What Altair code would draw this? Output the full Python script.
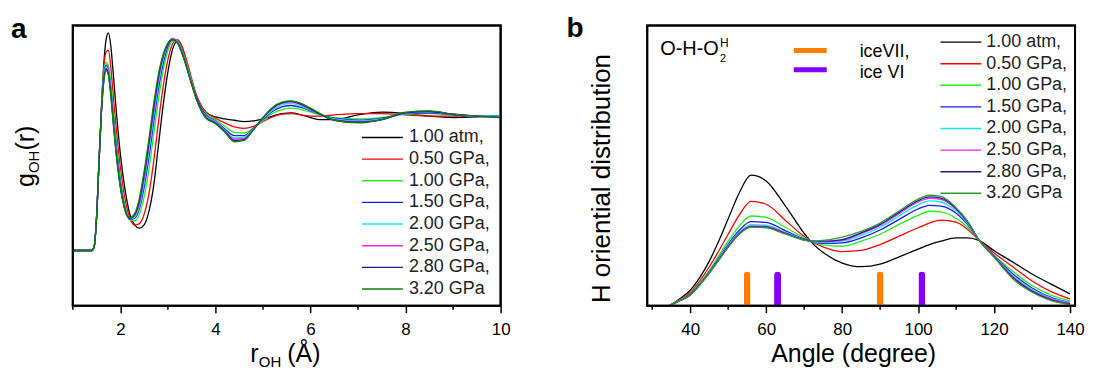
import altair as alt
import pandas as pd

FONT = "Liberation Sans"

# ---------------- data: panel a (g_OH(r)) ----------------
R_A = [1.0, 1.4, 1.45, 1.5, 1.55, 1.6, 1.65, 1.7, 1.75, 1.8, 1.85, 1.9, 2.0, 2.1, 2.2, 2.3, 2.4, 2.5,
       2.6, 2.7, 2.8, 2.9, 3.0, 3.1, 3.2, 3.3, 3.4, 3.5, 3.6, 3.8, 4.0, 4.2, 4.4, 4.6, 4.8, 5.0, 5.2,
       5.4, 5.6, 5.8, 6.0, 6.2, 6.5, 7.0, 7.5, 8.0, 8.5, 9.0, 9.5, 10.0]
G_ATM = [0, 0, 0.03, 0.25, 0.65, 1.05, 1.38, 1.57, 1.62, 1.52, 1.32, 1.10, 0.72, 0.45, 0.27, 0.19, 0.166,
         0.19, 0.29, 0.48, 0.78, 1.08, 1.33, 1.50, 1.56, 1.50, 1.38, 1.25, 1.14, 1.03, 0.995, 0.98, 0.97,
         0.96, 0.965, 0.98, 1.0, 1.02, 1.025, 1.01, 0.99, 0.975, 0.975, 1.01, 1.03, 1.02, 1.0, 0.99, 0.995, 1.0]
G_050 = [0, 0, 0.03, 0.25, 0.65, 1.04, 1.36, 1.48, 1.49, 1.36, 1.16, 0.96, 0.62, 0.38, 0.24, 0.19, 0.20,
         0.27, 0.42, 0.66, 0.95, 1.22, 1.42, 1.54, 1.57, 1.52, 1.41, 1.28, 1.16, 1.03, 0.985, 0.95, 0.92,
         0.91, 0.925, 0.96, 0.995, 1.015, 1.02, 1.01, 1.0, 1.0, 1.01, 1.02, 1.02, 1.01, 1.0, 1.0, 1.0, 1.0]
G_100 = [0, 0, 0.03, 0.25, 0.65, 1.03, 1.33, 1.40, 1.37, 1.24, 1.05, 0.86, 0.54, 0.33, 0.23, 0.22, 0.27,
         0.40, 0.60, 0.86, 1.12, 1.34, 1.49, 1.56, 1.56, 1.49, 1.38, 1.26, 1.14, 1.02, 0.975, 0.925, 0.88,
         0.875, 0.91, 0.965, 1.02, 1.05, 1.06, 1.05, 1.03, 1.01, 0.99, 0.98, 0.99, 1.015, 1.02, 1.01, 1.0, 1.0]
G_150 = [0, 0, 0.03, 0.25, 0.65, 1.03, 1.30, 1.38, 1.34, 1.20, 1.01, 0.82, 0.51, 0.31, 0.23, 0.24, 0.31,
         0.47, 0.69, 0.95, 1.20, 1.39, 1.52, 1.57, 1.56, 1.48, 1.37, 1.25, 1.14, 1.01, 0.965, 0.905, 0.855,
         0.855, 0.91, 0.975, 1.035, 1.07, 1.08, 1.065, 1.04, 1.015, 0.985, 0.97, 0.985, 1.02, 1.025, 1.01, 1.0, 1.0]
G_200 = [0, 0, 0.03, 0.25, 0.65, 1.02, 1.28, 1.37, 1.33, 1.18, 0.99, 0.80, 0.49, 0.30, 0.235, 0.25, 0.33,
         0.51, 0.74, 1.00, 1.24, 1.42, 1.54, 1.58, 1.56, 1.48, 1.37, 1.25, 1.13, 1.00, 0.96, 0.895, 0.84,
         0.845, 0.905, 0.98, 1.045, 1.085, 1.095, 1.075, 1.045, 1.015, 0.98, 0.965, 0.98, 1.02, 1.03, 1.015, 1.0, 1.0]
G_250 = [0, 0, 0.03, 0.25, 0.65, 1.02, 1.27, 1.36, 1.32, 1.17, 0.97, 0.78, 0.48, 0.30, 0.24, 0.26, 0.35,
         0.54, 0.78, 1.03, 1.27, 1.44, 1.54, 1.58, 1.55, 1.47, 1.36, 1.24, 1.13, 0.995, 0.955, 0.89, 0.83,
         0.835, 0.90, 0.985, 1.055, 1.095, 1.105, 1.085, 1.05, 1.015, 0.975, 0.96, 0.975, 1.025, 1.035, 1.015, 1.0, 0.995]
G_280 = [0, 0, 0.03, 0.25, 0.65, 1.02, 1.26, 1.35, 1.31, 1.16, 0.96, 0.77, 0.475, 0.30, 0.24, 0.265, 0.37,
         0.56, 0.80, 1.06, 1.29, 1.45, 1.54, 1.57, 1.55, 1.47, 1.36, 1.24, 1.13, 0.99, 0.95, 0.885, 0.82,
         0.825, 0.90, 0.99, 1.06, 1.10, 1.11, 1.09, 1.055, 1.015, 0.97, 0.955, 0.975, 1.025, 1.035, 1.015, 1.0, 0.99]
G_320 = [0, 0, 0.03, 0.25, 0.65, 1.02, 1.25, 1.34, 1.30, 1.15, 0.95, 0.76, 0.47, 0.30, 0.245, 0.275, 0.39,
         0.59, 0.83, 1.09, 1.31, 1.46, 1.545, 1.57, 1.545, 1.465, 1.355, 1.235, 1.125, 0.985, 0.945, 0.88, 0.81,
         0.82, 0.90, 0.99, 1.065, 1.105, 1.115, 1.095, 1.06, 1.02, 0.97, 0.95, 0.975, 1.03, 1.04, 1.015, 1.0, 0.99]

# ---------------- data: panel b (H orientational distribution) ----------------
A_B = [34.5, 37, 40, 42.5, 45, 47.5, 50, 53, 56, 60, 65, 70, 72, 75, 80, 85, 90, 95, 100, 103, 106, 110,
       113, 116, 120, 125, 130, 135, 140]
P_ATM = [0, 0.22, 0.55, 1.0, 1.58, 2.3, 3.1, 4.05, 4.66, 4.45, 3.57, 2.58, 2.25, 1.9, 1.52, 1.39, 1.48,
         1.74, 2.02, 2.18, 2.3, 2.42, 2.42, 2.33, 1.96, 1.55, 1.13, 0.77, 0.42]
P_050 = [0, 0.2, 0.47, 0.88, 1.38, 1.95, 2.55, 3.25, 3.72, 3.62, 3.05, 2.47, 2.28, 2.1, 1.93, 1.97, 2.18,
         2.48, 2.78, 2.95, 3.05, 2.98, 2.72, 2.35, 1.88, 1.38, 0.88, 0.5, 0.24]
P_100 = [0, 0.18, 0.42, 0.8, 1.25, 1.78, 2.3, 2.85, 3.2, 3.15, 2.8, 2.42, 2.29, 2.17, 2.12, 2.3, 2.55,
         2.9, 3.22, 3.37, 3.35, 3.12, 2.8, 2.35, 1.8, 1.22, 0.72, 0.38, 0.18]
P_150 = [0, 0.17, 0.4, 0.77, 1.2, 1.7, 2.2, 2.7, 3.0, 2.97, 2.68, 2.38, 2.29, 2.22, 2.24, 2.42, 2.7,
         3.08, 3.45, 3.58, 3.55, 3.3, 2.9, 2.35, 1.78, 1.13, 0.63, 0.3, 0.12]
P_200 = [0, 0.17, 0.39, 0.76, 1.18, 1.67, 2.15, 2.63, 2.89, 2.87, 2.62, 2.36, 2.29, 2.25, 2.3, 2.5, 2.8,
         3.2, 3.6, 3.74, 3.7, 3.38, 2.95, 2.35, 1.76, 1.07, 0.58, 0.27, 0.1]
P_250 = [0, 0.16, 0.38, 0.75, 1.17, 1.65, 2.12, 2.6, 2.85, 2.83, 2.6, 2.35, 2.3, 2.28, 2.33, 2.57, 2.86,
         3.28, 3.7, 3.83, 3.79, 3.44, 2.98, 2.35, 1.75, 1.03, 0.54, 0.24, 0.08]
P_280 = [0, 0.16, 0.38, 0.74, 1.16, 1.63, 2.1, 2.58, 2.82, 2.8, 2.58, 2.35, 2.3, 2.3, 2.36, 2.6, 2.9,
         3.33, 3.75, 3.88, 3.84, 3.47, 3.0, 2.35, 1.74, 1.0, 0.51, 0.21, 0.06]
P_320 = [0, 0.16, 0.37, 0.73, 1.15, 1.62, 2.08, 2.56, 2.8, 2.78, 2.56, 2.34, 2.3, 2.33, 2.45, 2.65, 2.95,
         3.38, 3.8, 3.94, 3.9, 3.5, 3.02, 2.35, 1.73, 0.95, 0.48, 0.18, 0.04]

ICE_VII = [55, 90]
ICE_VI = [63, 101]
ICE_H = 1.22

SERIES = ["1.00 atm,", "0.50 GPa,", "1.00 GPa,", "1.50 GPa,", "2.00 GPa,", "2.50 GPa,", "2.80 GPa,", "3.20 GPa"]
COLORS_A = ["#000000", "#ff0000", "#22ee22", "#1a1aff", "#00f0f0", "#ff22ff", "#1c1c8c", "#0a800a"]
COLORS_B = ["#000000", "#ff0000", "#22ee22", "#1a1aff", "#00f0f0", "#ff22ff", "#1c1c8c", "#339933"]

MAJOR_A = [2, 4, 6, 8, 10]
MINOR_A = [1, 3, 5, 7, 9]
MAJOR_B = [40, 60, 80, 100, 120, 140]
MINOR_B = [30, 50, 70, 90, 110, 130]

DOMAIN_XA, DOMAIN_YA = [1, 10], [-0.411, 1.676]
DOMAIN_XB, DOMAIN_YB = [30, 140], [0, 10]


def long_df(xs, ys_list, xname, yname):
    rows = []
    for k, (lab, ys) in enumerate(zip(SERIES, ys_list)):
        for x, y in zip(xs, ys):
            rows.append({xname: x, yname: y, "series": lab, "k": k})
    return pd.DataFrame(rows)


df_a = long_df(R_A, [G_ATM, G_050, G_100, G_150, G_200, G_250, G_280, G_320], "r", "g")
df_b = long_df(A_B, [P_ATM, P_050, P_100, P_150, P_200, P_250, P_280, P_320], "r", "v")

W, H = 429, 281


def text(t, x, y, size, angle=0, align="left", baseline="alphabetic", weight="normal"):
    return alt.Chart(pd.DataFrame({"t": [t]})).mark_text(
        align=align, baseline=baseline, fontSize=size, font=FONT, fontWeight=weight,
        angle=angle, color="black"
    ).encode(x=alt.value(x), y=alt.value(y), text="t:N")


def hline(x0, x1, y, color, width):
    return alt.Chart(pd.DataFrame({"c": [0]})).mark_rule(color=color, strokeWidth=width).encode(
        x=alt.value(x0), x2=alt.value(x1), y=alt.value(y))


def vline(x, y0, y1, color, width):
    return alt.Chart(pd.DataFrame({"c": [0]})).mark_rule(color=color, strokeWidth=width).encode(
        x=alt.value(x), y=alt.value(y0), y2=alt.value(y1))


def frame():
    # plot-area box on its edges
    return [hline(-1, W + 1, 0, "#000000", 2), hline(-1, W + 1, H, "#000000", 2),
            vline(0, 0, H, "#000000", 2), vline(W, 0, H, "#000000", 2)]


def x_enc(domain, values, field="r"):
    return alt.X(f"{field}:Q", scale=alt.Scale(domain=domain, nice=False, zero=False),
                 axis=alt.Axis(values=values, format="d", title=None, domain=False, grid=False,
                               tickSize=7, tickWidth=1.5, tickColor="black",
                               labelFontSize=17, labelFont=FONT, labelColor="black",
                               labelPadding=9, labelFlush=False, labelOverlap=False))


def legend_layers(colors, y0, y1, x0, x1, xt):
    leg = pd.DataFrame({"series": SERIES, "row": list(range(len(SERIES)))})
    ly = alt.Y("row:Q", scale=alt.Scale(domain=[0, len(SERIES) - 1], range=[y0, y1]), axis=None)
    rules = alt.Chart(leg).mark_rule(strokeWidth=1.4).encode(
        x=alt.value(x0), x2=alt.value(x1), y=ly,
        color=alt.Color("series:N", scale=alt.Scale(domain=SERIES, range=colors), legend=None))
    texts = alt.Chart(leg).mark_text(align="left", baseline="middle", fontSize=18, font=FONT,
                                     color="#222222").encode(x=alt.value(xt), y=ly, text="series:N")
    return [rules, texts]


# ---------------- panel a ----------------
xa = x_enc(DOMAIN_XA, MAJOR_A)
lines_a = alt.Chart(df_a).mark_line(strokeWidth=1.3, interpolate="monotone").encode(
    x=xa,
    y=alt.Y("g:Q", scale=alt.Scale(domain=DOMAIN_YA, nice=False, zero=False), axis=None),
    color=alt.Color("series:N", scale=alt.Scale(domain=SERIES, range=COLORS_A), legend=None),
    order="k:Q",
)
minor_a = alt.Chart(pd.DataFrame({"r": MINOR_A})).mark_rule(color="black", strokeWidth=1.5).encode(
    x=xa, y=alt.value(H), y2=alt.value(H + 4))

panel_a = alt.layer(
    lines_a, minor_a, *frame(),
    *legend_layers(COLORS_A, 112.3, 264.3, 290, 331, 337),
    text("a", -62, 13, 28, weight="bold"),
    text("g", -39, 162, 25, angle=270),
    text("OH", -34, 148, 15, angle=270),
    text("(r)", -39, 125.5, 25, angle=270),
    text("r", 178, 337, 25),
    text("OH", 186.5, 342, 15),
    text("(Å)", 215, 337, 25),
).resolve_scale(y="independent").properties(width=W, height=H)

# ---------------- panel b ----------------
xb = x_enc(DOMAIN_XB, MAJOR_B)
yb = alt.Y("v:Q", scale=alt.Scale(domain=DOMAIN_YB, nice=False, zero=False), axis=None)
lines_b = alt.Chart(df_b).mark_line(strokeWidth=1.3, interpolate="monotone").encode(
    x=xb, y=yb,
    color=alt.Color("series:N", scale=alt.Scale(domain=SERIES, range=COLORS_B), legend=None),
    order="k:Q",
)
minor_b = alt.Chart(pd.DataFrame({"r": MINOR_B})).mark_rule(color="black", strokeWidth=1.5).encode(
    x=xb, y=alt.value(H), y2=alt.value(H + 4))
bar_vii = alt.Chart(pd.DataFrame({"r": ICE_VII, "v": [ICE_H] * len(ICE_VII)})).mark_bar(
    size=7, color="#ff8000", cornerRadiusTopLeft=3.5, cornerRadiusTopRight=3.5).encode(x=xb, y=yb)
bar_vi = alt.Chart(pd.DataFrame({"r": ICE_VI, "v": [ICE_H] * len(ICE_VI)})).mark_bar(
    size=7, color="#8000ff", cornerRadiusTopLeft=3.5, cornerRadiusTopRight=3.5).encode(x=xb, y=yb)

panel_b = alt.layer(
    lines_b, minor_b, bar_vii, bar_vi, *frame(),
    *legend_layers(COLORS_B, 16.7, 168.3, 294, 335, 340),
    hline(147, 180, 25, "#ff8000", 5),
    hline(147, 180, 44.3, "#8000ff", 5),
    text("iceVII,", 213, 26.6, 18, baseline="middle"),
    text("ice VI", 213, 48, 18, baseline="middle"),
    text("O-H-O", 13, 30, 20),
    text("2", 73, 37, 11),
    text("H", 73, 21.7, 12),
    text("b", -81, 12, 28, weight="bold"),
    text("H oriential distribution", -37, 153.5, 26, angle=270, align="center"),
    text("Angle (degree)", 207, 337, 25, align="center"),
).resolve_scale(y="independent").properties(width=W, height=H)

chart = alt.hconcat(panel_a, panel_b, spacing=147, bounds="flush").resolve_scale(
    color="independent"
).properties(
    padding={"left": 2, "top": 6, "right": 0, "bottom": 0}
).configure(
    font=FONT,
    view=alt.ViewConfig(stroke="#000000", strokeWidth=2),
)

chart.save("out.html", embed_options={"renderer": "svg", "actions": False})
